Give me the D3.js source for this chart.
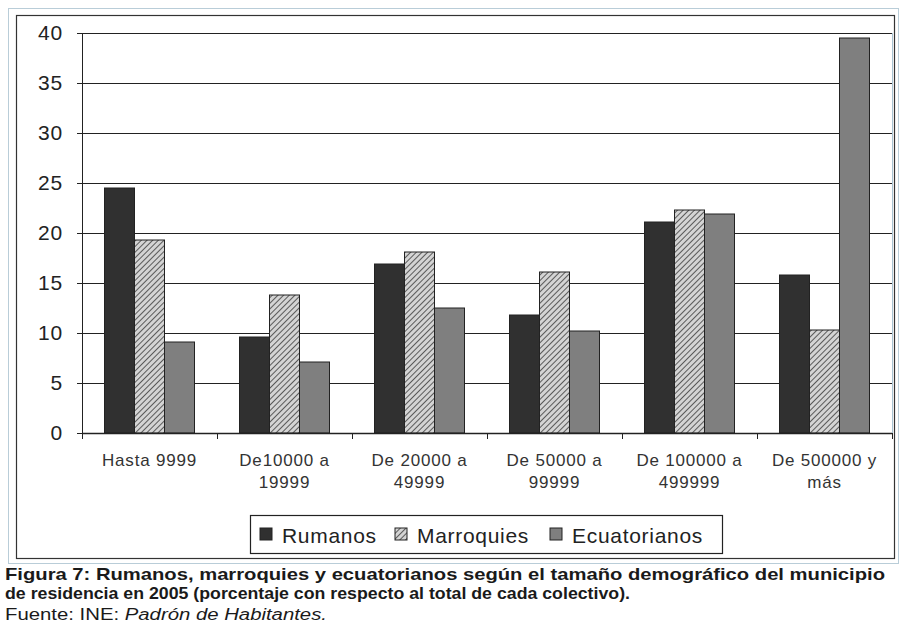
<!DOCTYPE html>
<html>
<head>
<meta charset="utf-8">
<script src="https://cdn.jsdelivr.net/npm/d3@7"></script>
<style>
body { margin: 0; background: #fff; }
svg { display: block; font-family: Arial, "Liberation Sans", sans-serif; }
</style>
</head>
<body>
<svg width="901" height="625"></svg>
<script>
// data
var categories = ["Hasta 9999", "De10000 a|19999", "De 20000 a|49999", "De 50000 a|99999", "De 100000 a|499999", "De 500000 y|más"]
var series = ["Rumanos", "Marroquies", "Ecuatorianos"]
var rumanos = [24.5, 9.6, 16.9, 11.8, 21.1, 15.8]
var marroquies = [19.3, 13.8, 18.1, 16.1, 22.3, 10.3]
var ecuatorianos = [9.1, 7.1, 12.5, 10.2, 21.9, 39.5]
var yTicks = [0, 5, 10, 15, 20, 25, 30, 35, 40]

var values = [rumanos, marroquies, ecuatorianos]
var fills = ["#303030", "url(#hatch)", "#7f7f7f"]

var svg = d3.select("svg")
var margin = { top: 33, left: 82, right: 9, bottom: 192 }
var width = 892 - margin.left,
	height = 433 - margin.top

// hatch pattern for Marroquies
var defs = svg.append("defs")
var pat = defs.append("pattern")
	.attr("id", "hatch")
	.attr("patternUnits", "userSpaceOnUse")
	.attr("width", 4).attr("height", 4)
	.attr("patternTransform", "rotate(45)")
pat.append("rect").attr("width", 4).attr("height", 4).attr("fill", "#d4d4d4")
pat.append("line").attr("x1", 0).attr("y1", 0).attr("x2", 0).attr("y2", 4)
	.attr("stroke", "#3a3a3a").attr("stroke-width", 1.6)

// frames
svg.append("rect").attr("x", 8.5).attr("y", 8.5).attr("width", 890).attr("height", 555)
	.attr("fill", "none").attr("stroke", "#b9cdd8")
svg.append("rect").attr("x", 16.5).attr("y", 15.5).attr("width", 878).attr("height", 543)
	.attr("fill", "none").attr("stroke", "#333").attr("stroke-width", 1.2)

var g = svg.append("g").attr("transform", "translate(" + margin.left + "," + margin.top + ")")

var x0 = d3.scaleBand().domain(categories).range([0, width])
var x1 = d3.scaleBand().domain(series).range([x0.bandwidth() / 6, x0.bandwidth() * 5 / 6])
var y = d3.scaleLinear().domain([0, 40]).range([height, 0])

// plot area right edge
g.append("line").attr("x1", width + 0.5).attr("x2", width + 0.5).attr("y1", 0).attr("y2", height)
	.attr("stroke", "#a9c3d2")

// gridlines + y axis
var yAxis = g.append("g").attr("class", "y")
	.call(d3.axisLeft(y).tickValues(yTicks).tickSize(5).tickPadding(14))
yAxis.select(".domain").attr("stroke", "#222")
yAxis.selectAll(".tick line").attr("stroke", "#222")
yAxis.selectAll("text").attr("font-size", 21).attr("fill", "#222")
	.attr("letter-spacing", 0.8)
	.attr("font-family", "Arial, 'Liberation Sans', sans-serif")

g.append("g").selectAll("line").data(yTicks.filter(function(d) { return d > 0 }))
	.enter().append("line")
	.attr("x1", 0).attr("x2", width)
	.attr("y1", function(d) { return y(d) + 0.5 })
	.attr("y2", function(d) { return y(d) + 0.5 })
	.attr("stroke", "#222").attr("stroke-width", 1.2)

// bars
var groups = g.selectAll(".grp").data(categories).enter().append("g")
	.attr("transform", function(d) { return "translate(" + x0(d) + ",0)" })
groups.selectAll("rect")
	.data(function(d, i) { return series.map(function(s, j) { return { s: s, j: j, v: values[j][i] } }) })
	.enter().append("rect")
	.attr("x", function(d) { return x1(d.s) })
	.attr("y", function(d) { return y(d.v) })
	.attr("width", x1.bandwidth())
	.attr("height", function(d) { return height - y(d.v) })
	.attr("fill", function(d) { return fills[d.j] })
	.attr("stroke", "#222").attr("stroke-width", 1)

// x axis
var xAxis = g.append("g").attr("transform", "translate(0," + height + ")")
xAxis.append("line").attr("x1", 0).attr("x2", width).attr("y1", 0.5).attr("y2", 0.5)
	.attr("stroke", "#222").attr("stroke-width", 1.4)
xAxis.selectAll(".tk").data(d3.range(categories.length + 1)).enter().append("line")
	.attr("x1", function(i) { return i * x0.step() + 0.5 })
	.attr("x2", function(i) { return i * x0.step() + 0.5 })
	.attr("y1", 0).attr("y2", 6).attr("stroke", "#222")
xAxis.selectAll(".lbl").data(categories).enter().append("text")
	.attr("text-anchor", "middle")
	.attr("font-size", 17).attr("fill", "#333").attr("letter-spacing", 0.8)
	.attr("x", function(d) { return x0(d) + x0.bandwidth() / 2 })
	.attr("y", 33)
	.each(function(d) {
		var t = d3.select(this)
		d.split("|").forEach(function(part, k) {
			t.append("tspan").attr("x", t.attr("x")).attr("dy", k ? 22 : 0).text(part)
		})
	})

// legend
var lg = svg.append("g")
lg.append("rect").attr("x", 250.5).attr("y", 515.5).attr("width", 472).attr("height", 38)
	.attr("fill", "#fff").attr("stroke", "#222").attr("stroke-width", 1.2)
var legX = [260, 395, 550]
series.forEach(function(s, j) {
	lg.append("rect").attr("x", legX[j]).attr("y", 528).attr("width", 12).attr("height", 12)
		.attr("fill", fills[j]).attr("stroke", "#222")
	lg.append("text").attr("x", legX[j] + 22).attr("y", 543)
		.attr("font-size", 21).attr("fill", "#222").attr("letter-spacing", 0.7).text(s)
})

// caption
var cap = svg.append("g").attr("fill", "#1a1a1a")
cap.append("text").attr("x", 5).attr("y", 580).attr("font-size", 17).attr("font-weight", "bold")
	.attr("textLength", 880).attr("lengthAdjust", "spacingAndGlyphs")
	.text("Figura 7: Rumanos, marroquies y ecuatorianos según el tamaño demográfico del municipio")
cap.append("text").attr("x", 5).attr("y", 599).attr("font-size", 17).attr("font-weight", "bold")
	.attr("textLength", 625).attr("lengthAdjust", "spacingAndGlyphs")
	.text("de residencia en 2005 (porcentaje con respecto al total de cada colectivo).")
var src = cap.append("text").attr("x", 5).attr("y", 620).attr("font-size", 16)
	.attr("textLength", 322).attr("lengthAdjust", "spacingAndGlyphs")
src.append("tspan").text("Fuente: INE: ")
src.append("tspan").attr("font-style", "italic").text("Padrón de Habitantes.")
</script>
</body>
</html>
